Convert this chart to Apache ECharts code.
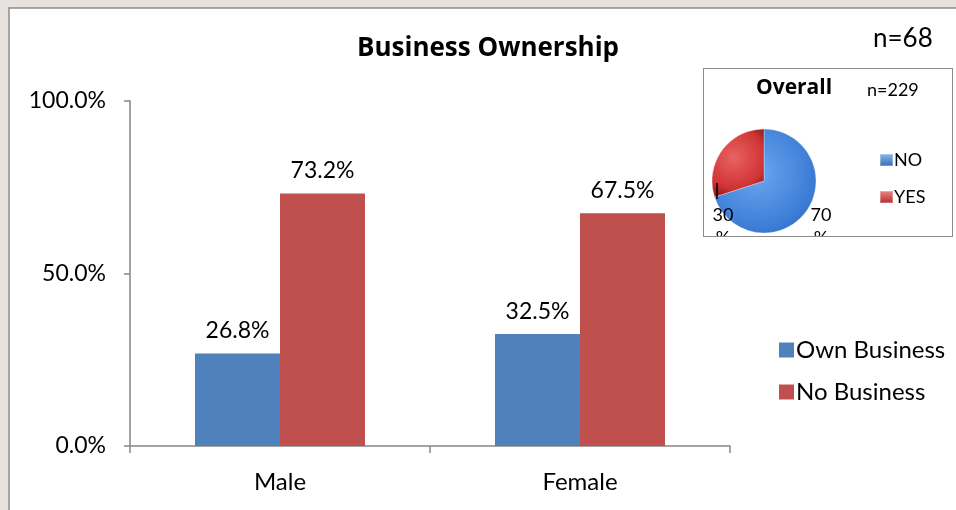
<!DOCTYPE html>
<html>
<head>
<meta charset="utf-8">
<script src="https://cdn.jsdelivr.net/npm/echarts@6/dist/echarts.min.js"></script>
<style>
  html, body { margin: 0; padding: 0; }
  body {
    width: 956px; height: 510px; overflow: hidden; position: relative;
    background: #e6e3df;
  }
  #main { position: absolute; left: 0; top: 0; width: 956px; height: 510px; }
  #inset {
    position: absolute; left: 703px; top: 68px; width: 248px; height: 167px;
    border: 1.5px solid #8c8c8c; background: #fff; overflow: hidden;
  }
</style>
</head>
<body>
<div id="main"></div>
<div id="inset"></div>
<script>
// Business ownership by gender (share of respondents, %)
const categories = ['Male', 'Female'];
const ownBusiness = [26.8, 32.5];
const noBusiness = [73.2, 67.5];
const seriesNames = ['Own Business', 'No Business'];
const yTicks = { min: 0, max: 100, interval: 50 };

// Overall split shown in the small pie
const overallNames = ['NO', 'YES'];
const overallValues = [70, 30];

const FONT = 'Lato, "Open Sans", sans-serif';
const BOLD = '"Open Sans", Lato, sans-serif';
const BLUE = '#4f81bd';
const RED = '#c0504d';
const AXIS = '#868686';

const main = echarts.init(document.getElementById('main'), null, { renderer: 'canvas' });
const valueLabel = {
  show: true, position: 'top', distance: 11, fontSize: 23, color: '#000',
  fontFamily: FONT, formatter: p => p.value.toFixed(1) + '%'
};
main.setOption({
  animation: false,
  backgroundColor: 'transparent',
  textStyle: { fontFamily: FONT },
  graphic: [
    {
      type: 'rect', z: -10,
      shape: { x: 9, y: 8, width: 960, height: 520 },
      style: { fill: '#ffffff', stroke: '#8c8c8c', lineWidth: 1.5 }
    },
    {
      type: 'text', left: 357, top: 36,
      style: { text: 'Business Ownership', font: 'bold 26px ' + BOLD, fill: '#000' }
    },
    {
      type: 'text', left: 873, top: 26,
      style: { text: 'n=68', font: '26px ' + FONT, fill: '#000' }
    }
  ],
  legend: {
    orient: 'vertical',
    left: 774, top: 333,
    itemWidth: 15, itemHeight: 15, itemGap: 18,
    icon: 'rect',
    textStyle: { fontSize: 24, color: '#000', fontFamily: FONT, padding: [0, 0, 0, -3] },
    data: seriesNames
  },
  grid: { left: 130, right: 226, top: 101, bottom: 64 },
  xAxis: {
    type: 'category',
    data: categories,
    axisLine: { lineStyle: { color: AXIS, width: 1.5 } },
    axisTick: { show: true, length: 7, lineStyle: { color: AXIS, width: 1.5 } },
    axisLabel: { fontSize: 24, color: '#000', margin: 24, fontFamily: FONT }
  },
  yAxis: {
    type: 'value',
    min: yTicks.min, max: yTicks.max, interval: yTicks.interval,
    axisLine: { show: true, lineStyle: { color: AXIS, width: 1.5 } },
    axisTick: { show: true, length: 6, lineStyle: { color: AXIS, width: 1.5 } },
    splitLine: { show: false },
    axisLabel: {
      fontSize: 23, color: '#000', margin: 24, fontFamily: FONT,
      formatter: v => v.toFixed(1) + '%'
    }
  },
  series: [
    {
      name: seriesNames[0], type: 'bar', data: ownBusiness,
      barWidth: 85, barGap: '0%',
      itemStyle: { color: BLUE },
      label: valueLabel
    },
    {
      name: seriesNames[1], type: 'bar', data: noBusiness,
      barWidth: 85, barGap: '0%',
      itemStyle: { color: RED },
      label: valueLabel
    }
  ]
});

// Small "Overall" pie with bevel-like shading
function shade(light, mid, dark) {
  return new echarts.graphic.RadialGradient(0.42, 0.42, 0.72, [
    { offset: 0, color: light },
    { offset: 0.8, color: mid },
    { offset: 1, color: dark }
  ]);
}
const blueFill = shade('#6aa8f0', '#3a7ad4', '#2a5ca8');
const redFill = shade('#ea6262', '#d03434', '#a02222');
const legendBlue = new echarts.graphic.LinearGradient(0, 0, 0, 1, [
  { offset: 0, color: '#8fbdf0' }, { offset: 1, color: '#2f67b0' }
]);
const legendRed = new echarts.graphic.LinearGradient(0, 0, 0, 1, [
  { offset: 0, color: '#f08a8a' }, { offset: 1, color: '#b02828' }
]);

const inset = echarts.init(document.getElementById('inset'), null, { renderer: 'canvas' });
inset.setOption({
  animation: false,
  textStyle: { fontFamily: FONT },
  graphic: [
    { type: 'text', left: 52, top: 9, style: { text: 'Overall', font: 'bold 21px ' + BOLD, fill: '#000' } },
    { type: 'text', left: 163, top: 12, style: { text: 'n=229', font: '18px ' + FONT, fill: '#000' } },
    // leader line of the small slice's label
    { type: 'line', z: 100, shape: { x1: 13, y1: 114, x2: 13, y2: 130 }, style: { stroke: '#000', lineWidth: 1.5 } }
  ],
  legend: {
    orient: 'vertical', left: 170, top: 77,
    itemWidth: 13, itemHeight: 12, itemGap: 19, icon: 'rect',
    textStyle: { fontSize: 18, color: '#000', fontFamily: FONT, padding: [0, 0, 0, -4] },
    data: [
      { name: overallNames[0], icon: 'rect', itemStyle: { color: legendBlue } },
      { name: overallNames[1], icon: 'rect', itemStyle: { color: legendRed } }
    ]
  },
  series: [{
    type: 'pie',
    z: 2,
    center: [60, 112], radius: 52,
    startAngle: 90, clockwise: true,
    avoidLabelOverlap: false,
    itemStyle: { borderColor: 'rgba(255,255,255,0.3)', borderWidth: 1 },
    data: overallNames.map((n, i) => ({
      name: n, value: overallValues[i],
      itemStyle: { color: i === 0 ? blueFill : redFill }
    })),
    label: {
      show: true, position: 'outside', color: '#000', fontSize: 18,
      fontFamily: FONT, lineHeight: 23, align: 'center',
      formatter: p => p.value + '\n%'
    },
    labelLine: { show: false },
    labelLayout: p => ({
      x: p.dataIndex === 0 ? 117 : 19, y: 135,
      align: 'center', verticalAlign: 'top', hideOverlap: false, moveOverlap: null
    })
  }]
});
</script>
</body>
</html>
